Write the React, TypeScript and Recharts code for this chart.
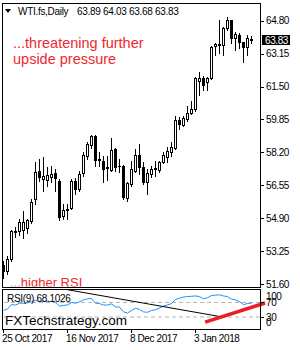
import React from 'react';
import { ComposedChart, Bar, XAxis, YAxis, LineChart, Line, ReferenceLine } from 'recharts';

const opens = [52.55, 52.25, 52.84, 54.24, 54.24, 54.29, 54.39, 54.74, 55.88, 57.27, 56.87, 56.82, 56.97, 57.17, 56.78, 55.03, 55.33, 55.43, 56.78, 56.38, 57.17, 58.02, 58.57, 59.01, 57.82, 57.77, 57.42, 57.32, 58.37, 57.52, 57.52, 55.93, 56.63, 57.27, 58.07, 57.47, 56.73, 57.12, 57.37, 57.32, 57.72, 57.97, 58.22, 58.42, 59.81, 59.56, 59.86, 60.16, 60.36, 61.8, 61.95, 61.75, 61.95, 63.54, 63.64, 63.59, 64.44, 64.83, 63.94, 64.09, 63.74, 63.49, 63.89];
const highs = [52.75, 52.99, 54.29, 54.44, 54.88, 55.28, 54.84, 55.88, 57.72, 57.87, 57.97, 57.47, 57.52, 57.37, 56.87, 55.63, 55.63, 56.87, 56.92, 57.27, 58.22, 58.72, 59.06, 59.06, 58.22, 58.02, 58.02, 58.92, 58.42, 57.87, 57.57, 56.73, 57.77, 58.37, 58.62, 57.72, 57.37, 57.52, 57.77, 57.77, 58.22, 58.47, 58.72, 60.01, 59.96, 60.01, 60.51, 60.76, 62.0, 62.25, 62.05, 62.0, 63.54, 63.69, 64.83, 64.49, 64.98, 64.83, 64.24, 64.19, 63.74, 64.09, 64.03];
const lows = [51.9, 52.1, 52.75, 53.94, 54.04, 53.89, 54.14, 54.64, 55.63, 56.78, 56.28, 56.53, 56.73, 56.28, 54.79, 54.88, 54.88, 55.38, 56.13, 56.28, 57.02, 57.87, 58.42, 57.52, 57.52, 56.73, 56.82, 57.27, 57.27, 57.22, 55.88, 55.78, 56.53, 57.22, 57.12, 56.63, 56.13, 56.97, 57.02, 57.22, 57.67, 57.72, 58.02, 58.37, 59.36, 59.51, 59.76, 60.11, 60.26, 61.1, 61.35, 61.35, 61.9, 63.09, 63.19, 63.09, 64.34, 63.69, 63.34, 63.44, 62.75, 63.09, 63.68];
const closes = [52.25, 52.84, 54.24, 54.19, 54.69, 54.69, 54.79, 55.73, 57.22, 56.97, 57.02, 57.07, 57.12, 56.92, 54.98, 55.33, 55.38, 56.78, 56.38, 57.12, 58.07, 58.62, 59.01, 57.82, 57.87, 57.37, 57.47, 58.32, 57.47, 57.52, 55.98, 56.68, 57.37, 58.07, 57.47, 56.73, 57.17, 57.37, 57.42, 57.72, 58.07, 58.27, 58.47, 59.81, 59.61, 59.91, 60.16, 60.36, 61.95, 61.95, 61.6, 61.95, 63.49, 63.64, 63.59, 64.44, 64.83, 63.94, 64.14, 63.74, 63.49, 63.94, 63.83];
const rsiValues = [48, 52, 64, 63, 68, 68, 69, 72, 76, 73, 73, 73, 73, 71, 60, 62, 63, 70, 68, 72, 77, 80, 81, 68, 67, 63, 63, 66, 58, 57, 44, 41, 48, 54, 51, 44, 43, 48, 50, 55, 60, 63, 67, 78, 82, 85, 86, 87, 88, 86, 80, 83, 89, 90, 91, 88, 86, 79, 77, 72, 64, 67, 68.1];

const priceTicks = [51.6, 53.25, 54.9, 56.55, 58.2, 59.85, 61.5, 63.15, 64.8];
const dateTickIdx = [0, 16, 32, 48];
const dateTickLabels = ['25 Oct 2017', '16 Nov 2017', '8 Dec 2017', '3 Jan 2018'];
const rsiLevels = [70, 30];
const rsiTicks = [0, 30, 70, 100];
const lastPrice = 63.83;
const headerSymbol = 'WTI.fs,Daily';
const headerValues = '63.89 64.03 63.68 63.83';
const rsiLabel = 'RSI(9) 68.1026';
const blackTrend = [{ x: 15.5, y: 106 }, { x: 54.75, y: 30 }];
const redTrend = [{ x: 50.4, y: 16 }, { x: 65.4, y: 68.5 }];
const noteTop1 = '...threatening further';
const noteTop2 = 'upside pressure';
const noteRsi = '...higher RSI';
const brand = 'FXTechstrategy.com';

const data = opens.map((o, i) => ({
  i,
  open: o,
  high: highs[i],
  low: lows[i],
  close: closes[i],
  range: [lows[i], highs[i]],
  rsi: rsiValues[i],
}));

const FONT = '"Liberation Sans", Arial, sans-serif';
const X_DOMAIN: [number, number] = [-0.375, 64.125];
const PLOT_R = 260;

const Candle = (props: any) => {
  const { x, y, width, height, payload } = props;
  if (payload == null || height == null) return null;
  const { open, close, high, low } = payload;
  const cx = Math.floor(x + width / 2) + 0.5;
  const ratio = height / (high - low);
  const yO = y + (high - open) * ratio;
  const yC = y + (high - close) * ratio;
  const top = Math.round(Math.min(yO, yC)) + 0.5;
  const bot = Math.round(Math.max(yO, yC)) + 0.5;
  const up = close >= open;
  const yH = Math.round(y);
  const yL = Math.round(y + height) + 1;
  return (
    <g>
      <line x1={cx} x2={cx} y1={yH} y2={yL} stroke="#000" strokeWidth={1} />
      {bot - top < 1 ? (
        <line x1={cx - 1.5} x2={cx + 1.5} y1={top} y2={top} stroke="#000" strokeWidth={1} />
      ) : (
        <rect x={cx - 1} y={top} width={2} height={bot - top} fill={up ? '#fff' : '#000'} stroke="#000" strokeWidth={1} />
      )}
    </g>
  );
};

const PriceTick = (props: any) => {
  const { y, payload } = props;
  const yy = Math.round(y) + 0.5;
  return (
    <g>
      <line x1={PLOT_R + 1} x2={PLOT_R + 4} y1={yy} y2={yy} stroke="#000" />
      <text x={PLOT_R + 6} y={y} dy={3.6} fontSize={10} letterSpacing={-0.4} fill="#000" fontFamily={FONT}>
        {Number(payload.value).toFixed(2)}
      </text>
    </g>
  );
};

const RsiTick = (props: any) => {
  const { y, payload } = props;
  const v = payload.value;
  const off = v === 100 ? 4.5 : v === 0 ? -6 : 0;
  const yy = Math.round(y) + 0.5;
  return (
    <g>
      {(v === 70 || v === 30) && <line x1={PLOT_R + 1} x2={PLOT_R + 4} y1={yy} y2={yy} stroke="#000" />}
      <text x={PLOT_R + 6} y={y + off} dy={3.6} fontSize={10} letterSpacing={-0.4} fill="#000" fontFamily={FONT}>
        {v}
      </text>
    </g>
  );
};

const DateTick = (props: any) => {
  const { x, payload } = props;
  const idx = dateTickIdx.indexOf(payload.value);
  const xx = Math.floor(x) + 0.5;
  return (
    <g>
      <line x1={xx} x2={xx} y1={40} y2={44} stroke="#000" />
      <text x={xx - 1.5} y={53} fontSize={10} letterSpacing={-0.4} fill="#000" fontFamily={FONT}>
        {idx >= 0 ? dateTickLabels[idx] : ''}
      </text>
    </g>
  );
};

const PriceBox = (props: any) => {
  const vb = props.viewBox || {};
  const bx = vb.x + vb.width + 2;
  const by = Math.round(vb.y) - 5;
  return (
    <g>
      <rect x={bx} y={by} width={28} height={10} fill="#000" />
      <text x={bx + 3} y={by + 8.6} fontSize={10} letterSpacing={-0.4} fill="#fff" fontFamily={FONT}>
        {lastPrice.toFixed(2)}
      </text>
    </g>
  );
};

export default function App() {
  return (
    <div style={{ position: 'absolute', left: 0, top: 0, width: 300, height: 350, background: '#fff', overflow: 'hidden' }}>
      <div style={{ position: 'absolute', left: 0, top: 0 }}>
        <ComposedChart width={300} height={290} data={data} margin={{ top: 3, right: 0, bottom: 3, left: 2 }}>
          <XAxis type="number" dataKey="i" domain={X_DOMAIN} allowDataOverflow hide />
          <YAxis
            orientation="right"
            type="number"
            domain={[51.45, 65.69]}
            allowDataOverflow
            ticks={priceTicks}
            interval={0}
            width={40}
            axisLine={false}
            tickLine={false}
            tick={<PriceTick />}
          />
          <Bar dataKey="range" shape={<Candle />} barSize={3} isAnimationActive={false} />
          <ReferenceLine y={lastPrice} stroke="none" ifOverflow="visible" label={(p: any) => <PriceBox {...p} />} />
        </ComposedChart>
      </div>
      <div style={{ position: 'absolute', left: 0, top: 289 }}>
        <LineChart width={300} height={61} data={data} margin={{ top: 0, right: 0, bottom: 0, left: 2 }}>
          <XAxis
            type="number"
            dataKey="i"
            domain={X_DOMAIN}
            allowDataOverflow
            ticks={dateTickIdx}
            interval={0}
            height={21}
            axisLine={false}
            tickLine={false}
            tick={<DateTick />}
          />
          <YAxis
            orientation="right"
            type="number"
            domain={[-3, 107]}
            allowDataOverflow
            ticks={rsiTicks}
            interval={0}
            width={40}
            axisLine={false}
            tickLine={false}
            tick={<RsiTick />}
          />
          {rsiLevels.map((lv) => (
            <ReferenceLine key={lv} y={lv} stroke="#b4b4b4" strokeDasharray="4 3" />
          ))}
          <Line type="linear" dataKey="rsi" stroke="#1e90ff" strokeWidth={1} dot={false} isAnimationActive={false} />
          <ReferenceLine segment={blackTrend} stroke="#000" strokeWidth={1} ifOverflow="visible" />
          <ReferenceLine segment={redTrend} stroke="#ee1c24" strokeWidth={3.5} ifOverflow="visible" />
        </LineChart>
      </div>
      <div style={{ position: 'absolute', left: 2, top: 3, width: 259, height: 285, border: '1px solid #000', boxSizing: 'border-box', pointerEvents: 'none' }} />
      <div style={{ position: 'absolute', left: 2, top: 289, width: 259, height: 41, border: '1px solid #000', boxSizing: 'border-box', pointerEvents: 'none' }} />
      <svg width={300} height={350} style={{ position: 'absolute', left: 0, top: 0, pointerEvents: 'none' }}>
        <defs>
          <clipPath id="pricePane">
            <rect x={3} y={4} width={256} height={282.5} />
          </clipPath>
        </defs>
        <polygon points="5,9 11,9 8,13" fill="#000" />
        <text x={18} y={15} fontSize={10} letterSpacing={-0.3} fill="#000" fontFamily={FONT}>{headerSymbol}</text>
        <text x={77} y={15} fontSize={10} letterSpacing={-0.3} fill="#000" fontFamily={FONT}>{headerValues}</text>
        <text x={13} y={48} fontSize={14.5} fill="#f0282d" fontFamily={FONT}>{noteTop1}</text>
        <text x={13} y={63.5} fontSize={14.5} fill="#f0282d" fontFamily={FONT}>{noteTop2}</text>
        <g clipPath="url(#pricePane)">
          <text x={10} y={287} fontSize={13} fill="#f0282d" fontFamily={FONT}>{noteRsi}</text>
        </g>
        <text x={7} y={301.5} fontSize={10} letterSpacing={-0.3} fill="#000" fontFamily={FONT}>{rsiLabel}</text>
        <text x={5} y={325} fontSize={13.5} fill="#000" fontFamily={FONT}>{brand}</text>
      </svg>
    </div>
  );
}
